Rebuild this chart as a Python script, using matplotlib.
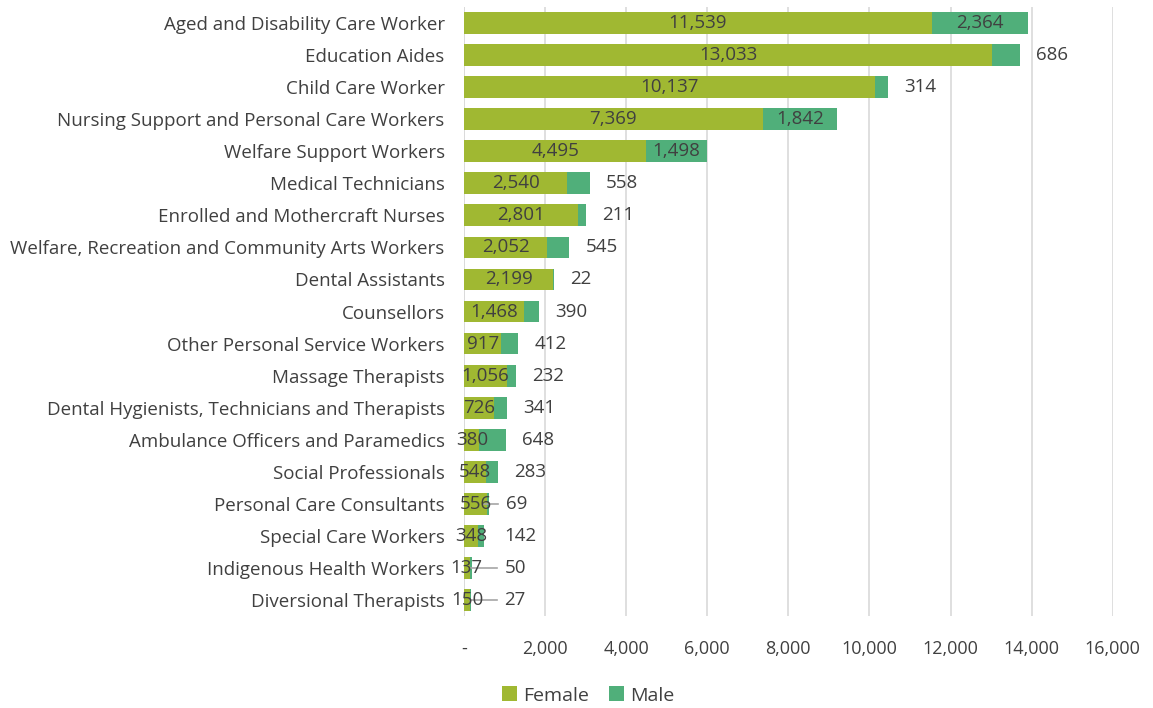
import numpy as np
import matplotlib.pyplot as plt
from matplotlib.ticker import FuncFormatter

# Datos
ocupaciones = [
    "Aged and Disability Care Worker", "Education Aides", "Child Care Worker",
    "Nursing Support and Personal Care Workers", "Welfare Support Workers",
    "Medical Technicians", "Enrolled and Mothercraft Nurses",
    "Welfare, Recreation and Community Arts Workers", "Dental Assistants",
    "Counsellors", "Other Personal Service Workers", "Massage Therapists",
    "Dental Hygienists, Technicians and Therapists",
    "Ambulance Officers and Paramedics", "Social Professionals",
    "Personal Care Consultants", "Special Care Workers",
    "Indigenous Health Workers", "Diversional Therapists",
]
female = [11539, 13033, 10137, 7369, 4495, 2540, 2801, 2052, 2199, 1468,
          917, 1056, 726, 380, 548, 556, 348, 137, 150]
male = [2364, 686, 314, 1842, 1498, 558, 211, 545, 22, 390,
        412, 232, 341, 648, 283, 69, 142, 50, 27]

color_f = '#A0B832'
color_m = '#50AF7A'
texto = '#404040'

plt.rcParams['font.family'] = ['Open Sans', 'DejaVu Sans']

fig = plt.figure(figsize=(11.53, 7.08), dpi=100)
ax = fig.add_axes([0.4025, 0.130, 0.5625, 0.860])

y = np.arange(len(ocupaciones))
f = np.array(female)
m = np.array(male)

ax.barh(y, f, height=0.68, color=color_f, label='Female', zorder=3)
ax.barh(y, m, left=f, height=0.68, color=color_m, label='Male', zorder=3)

# Etiquetas
for i in range(len(y)):
    ax.text(f[i] / 2, y[i], f"{f[i]:,}", ha='center', va='center',
            fontsize=13.5, color=texto, zorder=5)
    if m[i] >= 1000:
        ax.text(f[i] + m[i] / 2, y[i], f"{m[i]:,}", ha='center', va='center',
                fontsize=13.5, color=texto, zorder=5)
    else:
        fin = f[i] + m[i]
        xl = max(fin + 400, 1000)
        ax.text(xl, y[i], f"{m[i]:,}", ha='left', va='center',
                fontsize=13.5, color=texto, zorder=5)
        if m[i] < 100 and f[i] < 1000:
            ax.plot([fin * 0.8, xl - 200], [y[i], y[i]],
                    color='#A6A6A6', lw=1.2, zorder=4)

ax.set_ylim(len(y) - 0.5, -0.5)
ax.set_xlim(0, 16000)
ax.set_xticks(np.arange(0, 16001, 2000))
ax.xaxis.set_major_formatter(FuncFormatter(lambda v, p: '-' if v == 0 else f"{v:,.0f}"))
ax.set_yticks(y)
ax.set_yticklabels(ocupaciones)
ax.tick_params(axis='both', length=0, labelcolor=texto)
ax.tick_params(axis='x', pad=17, labelsize=13)
ax.tick_params(axis='y', pad=14, labelsize=13.5)
ax.grid(axis='x', color='#D9D9D9', lw=1.2, zorder=0)
for s in ax.spines.values():
    s.set_visible(False)
ax.axvline(0, color='#D9D9D9', lw=1.2, zorder=0)

fig.legend(loc='lower center', bbox_to_anchor=(0.51, -0.02), ncol=2, frameon=False,
           fontsize=14, handlelength=0.8, handleheight=0.8, handletextpad=0.3,
           columnspacing=1.0, labelcolor=texto)

fig.savefig('out.png', dpi=100)
